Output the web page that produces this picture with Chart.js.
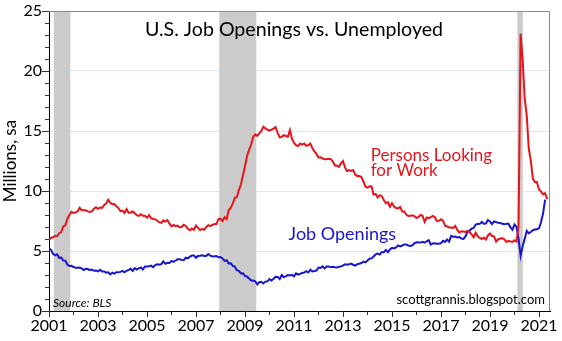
<!DOCTYPE html>
<html lang="en">
<head>
  <meta charset="UTF-8">
  <title>U.S. Job Openings vs. Unemployed</title>
  <style>
    html, body { margin: 0; padding: 0; background: #fff; }
    #wrap { width: 562px; height: 341px; }
  </style>
</head>
<body>
  <div id="wrap"><canvas id="myChart" width="562" height="341"></canvas></div>
  <script src="https://cdn.jsdelivr.net/npm/chart.js"></script>
  <script>
    // monthly data, starting January 2001 (millions)
    const startYear = 2001;
    const unemployed = [
      5.95, 6.09, 6.14, 6.27, 6.23, 6.48, 6.58, 7.04, 7.14, 7.69, 8.00, 8.26,
      8.18, 8.22, 8.30, 8.60, 8.40, 8.39, 8.39, 8.30, 8.25, 8.31, 8.52, 8.64,
      8.52, 8.62, 8.59, 8.84, 8.96, 9.27, 9.01, 8.90, 8.92, 8.73, 8.58, 8.32,
      8.37, 8.17, 8.49, 8.17, 8.21, 8.29, 8.14, 7.99, 7.93, 8.06, 7.93, 7.93,
      7.78, 7.98, 7.74, 7.67, 7.65, 7.52, 7.41, 7.35, 7.55, 7.45, 7.57, 7.28,
      7.06, 7.18, 7.07, 7.12, 6.98, 7.00, 7.18, 7.09, 6.85, 6.73, 6.87, 6.76,
      7.12, 6.93, 6.73, 6.85, 6.77, 6.98, 7.15, 7.07, 7.17, 7.24, 7.24, 7.65,
      7.69, 7.50, 7.82, 7.64, 8.40, 8.58, 8.94, 9.44, 9.49, 10.07, 10.54, 11.29,
      12.06, 12.90, 13.43, 13.85, 14.50, 14.71, 14.60, 14.81, 15.01, 15.35, 15.22, 15.10,
      15.05, 15.11, 15.20, 15.33, 14.85, 14.47, 14.51, 14.65, 14.58, 14.52, 15.08, 14.35,
      14.01, 13.82, 13.74, 13.96, 13.86, 13.96, 13.76, 13.82, 13.95, 13.59, 13.30, 13.09,
      12.80, 12.81, 12.71, 12.65, 12.66, 12.69, 12.66, 12.47, 12.12, 12.12, 12.01, 12.30,
      12.50, 11.97, 11.65, 11.74, 11.67, 11.74, 11.36, 11.24, 11.25, 11.16, 10.81, 10.38,
      10.28, 10.39, 10.38, 9.70, 9.76, 9.45, 9.65, 9.57, 9.24, 8.98, 9.07, 8.69,
      8.98, 8.71, 8.58, 8.55, 8.66, 8.30, 8.30, 8.03, 7.92, 7.94, 7.98, 7.91,
      7.75, 7.84, 8.00, 7.93, 7.43, 7.79, 7.74, 7.83, 7.93, 7.81, 7.48, 7.51,
      7.64, 7.53, 7.10, 7.04, 6.95, 6.96, 6.92, 7.09, 6.76, 6.54, 6.64, 6.63,
      6.59, 6.68, 6.58, 6.38, 6.14, 6.52, 6.23, 6.09, 6.00, 6.12, 5.96, 6.30,
      6.46, 6.25, 6.22, 5.79, 5.98, 6.02, 6.08, 5.98, 5.76, 5.84, 5.80, 5.75,
      5.89, 5.79, 7.14, 23.11, 20.98, 17.70, 16.31, 13.54, 12.54, 11.05, 10.73, 10.74,
      10.13, 9.97, 9.71, 9.81, 9.32
    ];
    const openings = [
      5.23, 5.10, 4.76, 4.64, 4.73, 4.43, 4.45, 4.21, 4.20, 3.87, 3.75, 3.76,
      3.67, 3.61, 3.60, 3.63, 3.55, 3.42, 3.51, 3.50, 3.41, 3.45, 3.35, 3.38,
      3.30, 3.43, 3.29, 3.30, 3.20, 3.23, 3.05, 3.19, 3.11, 3.23, 3.23, 3.26,
      3.34, 3.23, 3.35, 3.43, 3.52, 3.34, 3.57, 3.45, 3.56, 3.63, 3.47, 3.71,
      3.70, 3.73, 3.78, 3.65, 3.83, 3.89, 3.85, 3.91, 4.14, 3.93, 4.02, 4.01,
      4.18, 4.10, 4.21, 4.31, 4.31, 4.26, 4.23, 4.44, 4.38, 4.53, 4.62, 4.63,
      4.44, 4.59, 4.60, 4.65, 4.58, 4.59, 4.75, 4.62, 4.55, 4.56, 4.58, 4.48,
      4.50, 4.38, 4.18, 4.24, 3.97, 3.98, 3.76, 3.70, 3.40, 3.34, 3.13, 3.15,
      2.93, 2.86, 2.72, 2.54, 2.54, 2.48, 2.22, 2.40, 2.44, 2.29, 2.45, 2.47,
      2.66, 2.54, 2.69, 2.85, 2.84, 2.66, 3.00, 2.83, 2.88, 3.00, 2.96, 3.01,
      2.89, 3.14, 3.03, 3.10, 3.17, 3.20, 3.32, 3.21, 3.44, 3.30, 3.33, 3.37,
      3.62, 3.59, 3.72, 3.55, 3.70, 3.70, 3.64, 3.69, 3.65, 3.62, 3.69, 3.72,
      3.79, 3.89, 3.85, 3.89, 3.95, 3.85, 3.79, 3.91, 3.94, 4.00, 4.12, 4.05,
      4.21, 4.35, 4.38, 4.54, 4.73, 4.79, 4.70, 4.90, 4.90, 5.09, 4.90, 5.13,
      5.26, 5.22, 5.30, 5.47, 5.39, 5.46, 5.55, 5.54, 5.45, 5.42, 5.47, 5.65,
      5.72, 5.70, 5.70, 5.76, 5.69, 5.81, 5.91, 5.53, 5.63, 5.65, 5.61, 5.61,
      5.65, 5.85, 5.76, 5.96, 5.78, 6.26, 6.18, 6.20, 6.13, 6.16, 6.03, 6.01,
      6.22, 6.61, 6.70, 6.86, 6.92, 7.20, 7.25, 7.26, 7.42, 7.27, 7.29, 7.59,
      7.45, 7.24, 7.46, 7.41, 7.35, 7.34, 7.27, 7.24, 7.26, 7.28, 6.98, 6.77,
      7.21, 7.01, 6.01, 4.61, 5.40, 6.01, 6.68, 6.48, 6.58, 6.73, 6.79, 6.81,
      6.90, 7.40, 8.12, 9.29
    ];
    // recession periods (decimal years)
    const recessions = [[2001.2, 2001.87], [2007.95, 2009.46], [2020.12, 2020.34]];
    const xMin = 2001, xMax = 2021.45;
    const yMin = 0, yMax = 25;

    function toPoints(arr) {
      return arr.map((v, i) => ({ x: startYear + i / 12, y: v }));
    }

    const recessionPlugin = {
      id: 'recessions',
      beforeDatasetsDraw(chart) {
        const { ctx, chartArea, scales } = chart;
        ctx.save();
        ctx.fillStyle = '#cbcbcb';
        recessions.forEach(r => {
          const x1 = scales.x.getPixelForValue(r[0]);
          const x2 = scales.x.getPixelForValue(r[1]);
          ctx.fillRect(x1, chartArea.top, x2 - x1, chartArea.bottom - chartArea.top);
        });
        ctx.restore();
      },
      afterDraw(chart) {
        const { ctx, chartArea, scales } = chart;
        ctx.save();
        // top and right frame
        ctx.strokeStyle = '#888';
        ctx.lineWidth = 1;
        ctx.beginPath();
        ctx.moveTo(chartArea.left, chartArea.top + 0.5);
        ctx.lineTo(chartArea.right - 0.5, chartArea.top + 0.5);
        ctx.lineTo(chartArea.right - 0.5, chartArea.bottom);
        ctx.stroke();

        // tick marks, long for labelled ones
        ctx.strokeStyle = '#333';
        ctx.beginPath();
        scales.x.ticks.forEach((t, i) => {
          const px = Math.round(scales.x.getPixelForTick(i)) + 0.5;
          const len = t.value % 2 === 1 ? 6 : 4;
          ctx.moveTo(px, chartArea.bottom);
          ctx.lineTo(px, chartArea.bottom + len);
        });
        scales.y.ticks.forEach((t, i) => {
          const py = Math.round(scales.y.getPixelForTick(i)) + 0.5;
          const len = t.value % 5 === 0 ? 7 : 4;
          ctx.moveTo(chartArea.left, py);
          ctx.lineTo(chartArea.left - len, py);
        });
        ctx.stroke();

        const x = v => scales.x.getPixelForValue(v);
        const y = v => scales.y.getPixelForValue(v);

        ctx.fillStyle = '#000';
        ctx.font = '19.6px Lato';
        ctx.textAlign = 'center';
        ctx.textBaseline = 'alphabetic';
        ctx.fillText('U.S. Job Openings vs. Unemployed', 294, 36);

        ctx.fillStyle = '#e8141c';
        ctx.font = '17px Lato';
        ctx.textAlign = 'left';
        ctx.fillText('Persons Looking', x(2014.13), y(12.5));
        ctx.fillText('for Work', x(2014.13), y(11.25));

        ctx.fillStyle = '#1616cc';
        ctx.font = '18px Lato';
        ctx.fillText('Job Openings', x(2010.78), y(5.9));

        ctx.fillStyle = '#000';
        ctx.font = 'italic 12px Lato';
        ctx.fillText('Source: BLS', 53, 307);

        ctx.font = '13px Lato';
        ctx.textAlign = 'right';
        ctx.fillText('scottgrannis.blogspot.com', 545, 304);
        ctx.restore();
      }
    };

    new Chart(document.getElementById('myChart'), {
      type: 'line',
      data: {
        datasets: [{
          label: 'Persons Looking for Work',
          data: toPoints(unemployed),
          borderColor: '#e8141c',
          borderWidth: 2,
          pointRadius: 0,
          tension: 0
        }, {
          label: 'Job Openings',
          data: toPoints(openings),
          borderColor: '#1616cc',
          borderWidth: 2,
          pointRadius: 0,
          tension: 0
        }]
      },
      options: {
        responsive: false,
        animation: false,
        layout: { padding: { top: 11, right: 12, left: 0, bottom: 0 } },
        plugins: {
          legend: { display: false },
          tooltip: { enabled: false }
        },
        scales: {
          x: {
            type: 'linear',
            min: xMin,
            max: xMax,
            afterFit: s => { s.height = 30; },
            border: { display: true, color: '#000', width: 1 },
            grid: {
              drawOnChartArea: false,
              drawTicks: true,
              tickLength: 5,
              tickColor: 'rgba(0,0,0,0)'
            },
            ticks: {
              stepSize: 1,
              includeBounds: false,
              autoSkip: false,
              maxRotation: 0,
              padding: 0,
              color: '#000',
              font: { family: 'Lato', size: 16 },
              callback: v => (v % 2 === 1 ? String(v) : '')
            }
          },
          y: {
            min: yMin,
            max: yMax,
            afterFit: s => { s.width = 49; },
            border: { display: true, color: '#000', width: 1 },
            grid: {
              color: c => (c.tick && c.tick.value % 5 === 0 && c.tick.value > 0 && c.tick.value < 25 ? '#d6e8f5' : 'rgba(0,0,0,0)'),
              tickColor: 'rgba(0,0,0,0)',
              tickLength: 6
            },
            title: {
              display: true,
              text: 'Millions, sa',
              color: '#000',
              font: { family: 'Lato', size: 17 },
              padding: { top: 0, bottom: 0 }
            },
            ticks: {
              stepSize: 1,
              autoSkip: false,
              padding: 1,
              color: '#000',
              font: { family: 'Lato', size: 16 },
              callback: v => (v % 5 === 0 ? String(v) : '')
            }
          }
        }
      },
      plugins: [recessionPlugin]
    });
  </script>
</body>
</html>
